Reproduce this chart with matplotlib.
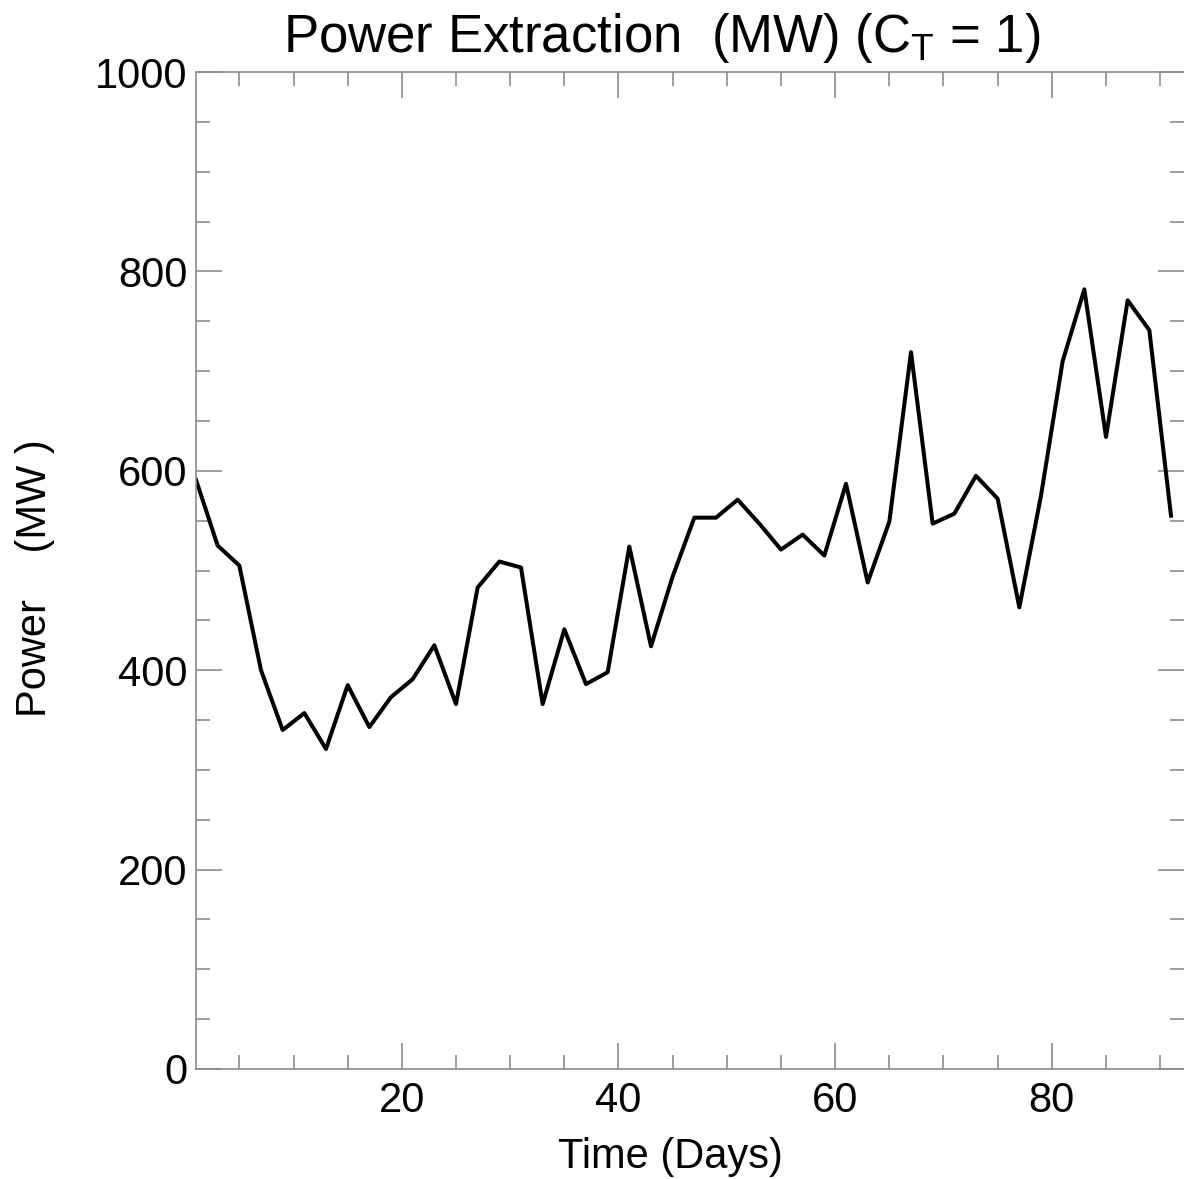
import matplotlib
matplotlib.use("Agg")
import matplotlib.pyplot as plt
import numpy as np
from matplotlib.ticker import MultipleLocator

plt.rcParams['font.family'] = ['Liberation Sans', 'DejaVu Sans']
plt.rcParams['mathtext.fontset'] = 'custom'
plt.rcParams['mathtext.rm'] = 'Liberation Sans'
plt.rcParams['mathtext.it'] = 'Liberation Sans'

# days (every 2 days) and extracted power (MW)
days = np.arange(1, 92, 2)
power = [591, 525, 505, 400, 340, 357, 321, 385, 343, 373,
         391, 425, 366, 483, 509, 503, 366, 441, 386, 398,
         524, 424, 494, 553, 553, 571, 547, 521, 536, 515,
         587, 488, 549, 719, 547, 557, 595, 572, 463, 575,
         710, 782, 634, 771, 741, 555]

W, H = 1184, 1179
fig = plt.figure(figsize=(W/100, H/100), dpi=100)
ax = fig.add_axes([196/W, 110/H, 988/W, 997/H])

ax.plot(days, power, color='black', linewidth=2.9)

ax.set_xlim(1, 92.2)
ax.set_ylim(0, 1000)
ax.xaxis.set_major_locator(MultipleLocator(20))
ax.xaxis.set_minor_locator(MultipleLocator(5))
ax.yaxis.set_major_locator(MultipleLocator(200))
ax.yaxis.set_minor_locator(MultipleLocator(50))

axis_grey = '#8c8c8c'
for s in ax.spines.values():
    s.set_color(axis_grey)
    s.set_linewidth(1.2)
ax.spines['right'].set_visible(False)

ax.tick_params(which='both', direction='in', top=True, right=True,
               color=axis_grey, width=1.2, labelsize=30)
ax.tick_params(axis='x', pad=9)
ax.tick_params(axis='y', pad=6)
ax.tick_params(which='major', length=19)
ax.tick_params(which='minor', length=10)

fig.text(670/W, 1 - 1168/H, 'Time (Days)', fontsize=30, ha='center', va='baseline')
fig.text(35/W, 1 - 578/H, 'Power    (MW )', fontsize=30, rotation=90,
         ha='center', va='center')
fig.text(662/W, 1 - 52/H, r'Power Extraction  (MW) (C$_\mathregular{T}$ = 1)',
         fontsize=38, ha='center', va='baseline')

fig.savefig('out.png', dpi=100)
